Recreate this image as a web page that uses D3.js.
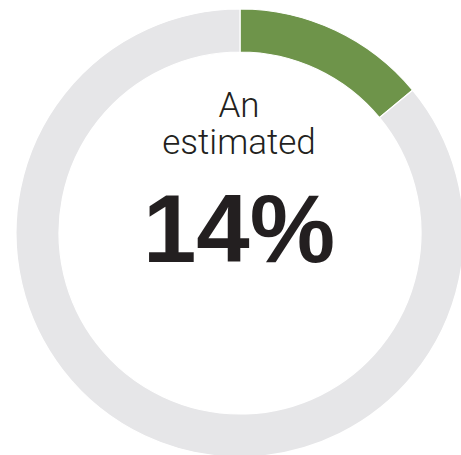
<!DOCTYPE html>
<html lang="en">
<head>
  <meta charset="UTF-8" />
  <title>Estimated share</title>
  <script src="https://d3js.org/d3.v7.min.js"></script>
  <style>
    body { margin: 0; background: white; }
    svg { display: block; }
  </style>
</head>
<body>
<svg width="461" height="455"></svg>
<script>
const labels = ["estimated", "rest"];
const shares = [14, 86];
const colors = ["#6e944a", "#e6e6e8"];
const captionLines = ["An", "estimated"];
const valueLabel = "14%";

const svg = d3.select("svg");
const cx = 240, cy = 233;
const outer = 224, inner = 181;

const pie = d3.pie().sort(null).value(d => d)(shares);
const arc = d3.arc().innerRadius(inner).outerRadius(outer);

const g = svg.append("g").attr("transform", `translate(${cx},${cy})`);
g.selectAll("path")
  .data(pie).join("path")
  .attr("d", arc)
  .attr("fill", (d, i) => colors[i])
  .attr("stroke", "white")
  .attr("stroke-width", 1.2);

g.selectAll("text.cap")
  .data(captionLines).join("text")
  .attr("class", "cap")
  .attr("x", -1)
  .attr("y", (d, i) => -116 + i * 37)
  .attr("text-anchor", "middle")
  .style("font-family", "Roboto, 'Liberation Sans', sans-serif")
  .style("font-weight", 300)
  .style("font-size", "35px")
  .attr("fill", "#231f20")
  .text(d => d);

g.append("text")
  .attr("x", -1)
  .attr("y", 29)
  .attr("text-anchor", "middle")
  .style("font-family", "'Liberation Sans', Arial, sans-serif")
  .style("font-weight", 700)
  .style("font-size", "96px")
  .attr("fill", "#231f20")
  .text(valueLabel);
</script>
</body>
</html>
